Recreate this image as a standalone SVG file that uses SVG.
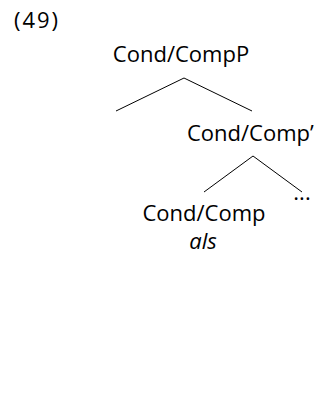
<svg xmlns="http://www.w3.org/2000/svg" width="320" height="415" viewBox="0 0 320 415">
<style>
text{font-family:"Open Sans","Noto Sans",sans-serif;font-size:22px;fill:#000}
.it{font-style:italic}
line{stroke:#000;stroke-width:1}
</style>
<rect width="320" height="415" fill="#fff"/>
<g id="label"><text x="14" y="28" textLength="44">(49)</text></g>
<g id="n-condcompP"><text x="181" y="62" text-anchor="middle">Cond/CompP</text></g>
<g id="n-condcompbar"><text x="187" y="141">Cond/Comp’</text></g>
<g id="n-condcomp"><text x="204" y="221" text-anchor="middle">Cond/Comp</text><text class="it" x="203" y="249" text-anchor="middle">als</text></g>
<g id="n-dots"><text x="302" y="200" text-anchor="middle">...</text></g>
<g id="connectors">
<line x1="184" y1="78" x2="116" y2="111"/>
<line x1="184" y1="78" x2="252" y2="111"/>
<line x1="253" y1="156" x2="204" y2="192"/>
<line x1="253" y1="156" x2="302" y2="192"/>
</g>
</svg>
